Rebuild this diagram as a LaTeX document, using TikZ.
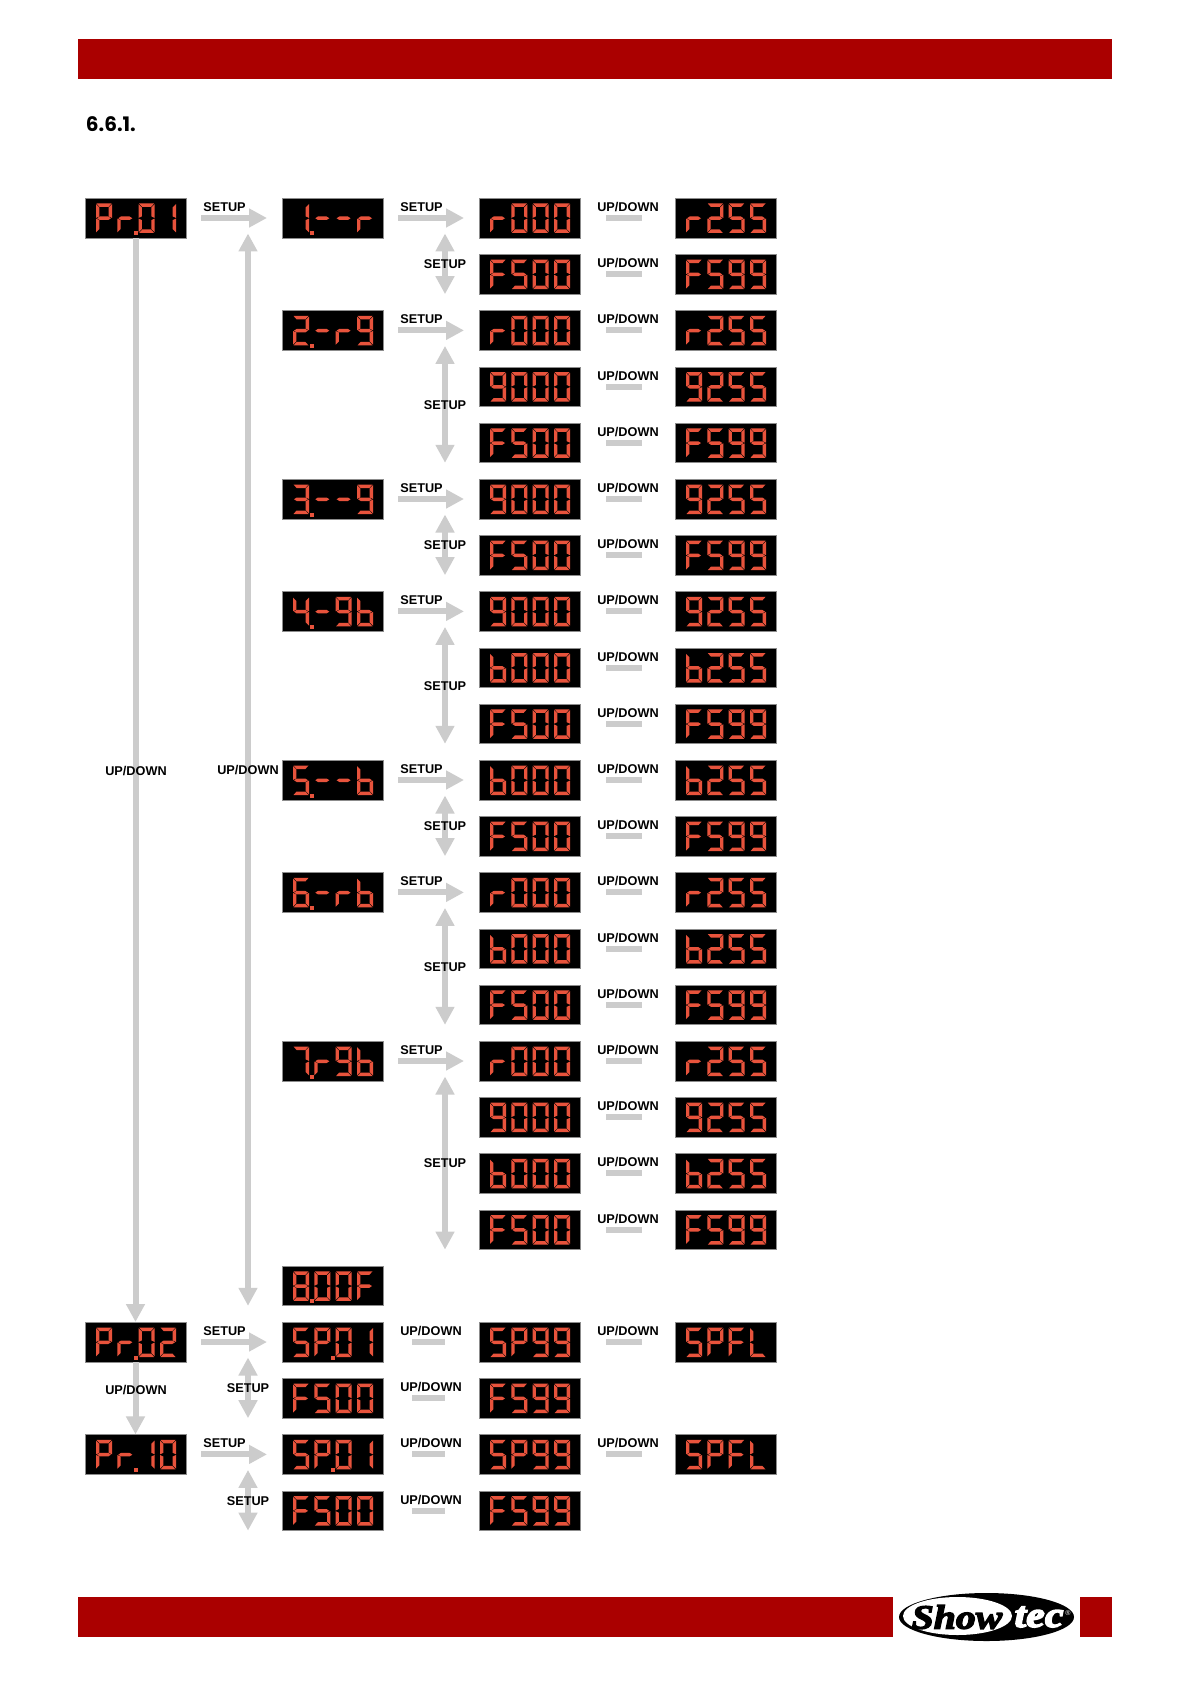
\documentclass[tikz,border=0pt]{standalone}
\usepackage{fontspec}
\setmainfont{Liberation Sans}
\newfontfamily\headfont{Poppins}
\newfontfamily\logofont[BoldItalicFeatures={FakeBold=4,FakeStretch=1.17}]{Liberation Serif}
\usetikzlibrary{arrows.meta,calc}
\definecolor{barred}{HTML}{AA0000}
\definecolor{segc}{HTML}{E8533C}
\definecolor{arrc}{HTML}{CCCCCC}
\tikzset{
  x=0.5pt,y=-0.5pt,
  lcdbox/.style={fill=black,draw=black!45,line width=.2pt,minimum width=50.3pt,minimum height=19.8pt,inner sep=0pt,text opacity=0,font=\fontsize{9}{9}\selectfont},
  lab/.style={font=\bfseries\fontsize{6.35}{7}\selectfont,inner sep=0pt,text=black},
  garrow/.style={draw=arrc,line width=3pt,-{Triangle[length=9pt,width=9pt,fill=arrc]}},
  gdouble/.style={draw=arrc,line width=3pt,{Triangle[length=9pt,width=9pt,fill=arrc]}-{Triangle[length=9pt,width=9pt,fill=arrc]}},
  gbar/.style={draw=arrc,line width=3pt},
  redbar/.style={fill=barred,draw=none},
}
\newcommand\segA{\fill[segc] (0.5,0)--(15.5,0)--(12.4,3.5)--(3.6,3.5)--cycle;}
\newcommand\segD{\fill[segc] (0.5,29.5)--(15.5,29.5)--(12.4,26)--(3.6,26)--cycle;}
\newcommand\segF{\fill[segc] (0,0.7)--(3.3,4)--(3.3,12.9)--(0,14.4)--cycle;}
\newcommand\segE{\fill[segc] (0,15.1)--(3.3,16.6)--(3.3,25.5)--(0,28.8)--cycle;}
\newcommand\segB{\fill[segc] (16,0.7)--(12.7,4)--(12.7,12.9)--(16,14.4)--cycle;}
\newcommand\segC{\fill[segc] (16,15.1)--(12.7,16.6)--(12.7,25.5)--(16,28.8)--cycle;}
\newcommand\segG{\fill[segc] (1,14.75)--(3.7,13)--(12.3,13)--(15,14.75)--(12.3,16.5)--(3.7,16.5)--cycle;}
\newcommand\defglyph[2]{\expandafter\def\csname lcdg#1\endcsname{#2}}
\defglyph{0}{\segA\segB\segC\segD\segE\segF}
\defglyph{1}{\segB\segC}
\defglyph{2}{\segA\segB\segG\segE\segD}
\defglyph{3}{\segA\segB\segG\segC\segD}
\defglyph{4}{\segF\segG\segB\segC}
\defglyph{5}{\segA\segF\segG\segC\segD}
\defglyph{6}{\segA\segF\segG\segC\segD\segE}
\defglyph{7}{\segA\segB\segC}
\defglyph{8}{\segA\segB\segC\segD\segE\segF\segG}
\defglyph{9}{\segA\segB\segC\segD\segF\segG}
\defglyph{r}{\segE\segG}
\defglyph{b}{\segC\segD\segE\segF\segG}
\defglyph{F}{\segA\segE\segF\segG}
\defglyph{P}{\segA\segB\segE\segF\segG}
\defglyph{S}{\segA\segF\segG\segC\segD}
\defglyph{L}{\segD\segE\segF}
\defglyph{-}{\segG}
\newcommand\lcdd[2]{\begin{scope}[shift={(\xl+#2,\yt+5.5)}]\csname lcdg#1\endcsname\end{scope}}
% name, centre x, row, text, four glyphs, decimal-point position
\newcommand\lcd[9]{%
  \pgfmathsetmacro\yc{218+56.2*#3}%
  \pgfmathsetmacro\xl{#2-50.5}%
  \pgfmathsetmacro\yt{\yc-20}%
  \node[lcdbox] (#1) at (#2,\yc) {#4};
  \lcdd{#5}{11}\lcdd{#6}{32.3}\lcdd{#7}{53.6}\lcdd{#8}{75}%
  \ifnum#9=0\else
    \pgfmathsetmacro\dotx{\xl+11+21.33*(#9-1)+16.5}%
    \fill[segc] (\dotx,\yt+33.5) rectangle ++(4,4);
  \fi
}
\def\lcdparse#1#2#3#4#5#6#7{\lcd{#1}{#2}{#3}{#4#5#6#7}{#4}{#5}{#6}{#7}{0}}
\newcommand\lcds[4]{\lcdparse{#1}{#2}{#3}#4}
\def\colA{135.5}\def\colB{332.5}\def\colC{529.5}\def\colD{725.5}
% stub with UP/DOWN label between two displays
\newcommand\stubCD[1]{%
  \draw[gbar,shorten <=13pt,shorten >=16.5pt] (c#1.east) -- (d#1.west);
  \node[lab] (ud#1) at ($(c#1.east)!.5!(d#1.west)+(.5,-11)$) {UP/DOWN};
}
\newcommand\stubBC[1]{%
  \draw[gbar,shorten <=14.5pt,shorten >=17pt] (b#1.east) -- (c#1.west);
  \node[lab] (ub#1) at ($(b#1.east)!.5!(c#1.west)+(0,-11)$) {UP/DOWN};
}
\newcommand\pair[3]{\lcds{c#1}{\colC}{#1}{#2}\lcds{d#1}{\colD}{#1}{#3}\stubCD{#1}}
% horizontal SETUP arrow
\newcommand\sarrow[3]{%
  \draw[garrow,shorten <=7.5pt] (#1.east) -- ($(#2.west)+(-15,0)$);
  \node[lab] (#3) at ($(#1.east)!.5!(#2.west)+(-9.5,-11)$) {SETUP};
}
% vertical double arrow: id, x, top row, bottom row, label
\newcommand\dbl[5]{%
  \pgfmathsetmacro\ya{218+56.2*#3+15.5}%
  \pgfmathsetmacro\yb{218+56.2*#4+20}%
  \coordinate (#1t) at (#2,\ya);
  \coordinate (#1b) at (#2,\yb);
  \draw[gdouble] (#1t) -- (#1b);
  \node[lab] (#1l) at ($(#1t)!.5!(#1b)+(0,.5)$) {#5};
}
\begin{document}
\begin{tikzpicture}
\useasboundingbox (0,0) rectangle (1191,1684);
\fill[white] (0,0) rectangle (1191,1684);
\fill[redbar] (78,39) rectangle (1112,79);
\fill[redbar] (78,1597) rectangle (893,1637);
\fill[redbar] (1080,1597) rectangle (1112,1637);
\node[anchor=west,inner sep=0pt,font=\headfont\bfseries\fontsize{10}{11}\selectfont] (head) at (85.5,124) {6.6.1.};
% displays, column B
\lcd{a0}{\colA}{0}{Pr.01}{P}{r}{0}{1}{2}
\lcd{a20}{\colA}{20}{Pr.02}{P}{r}{0}{2}{2}
\lcd{a22}{\colA}{22}{Pr.10}{P}{r}{1}{0}{2}
\lcd{b0}{\colB}{0}{1.--r}{1}{-}{-}{r}{1}
\lcd{b2}{\colB}{2}{2.-r9}{2}{-}{r}{9}{1}
\lcd{b5}{\colB}{5}{3.--9}{3}{-}{-}{9}{1}
\lcd{b7}{\colB}{7}{4.-9b}{4}{-}{9}{b}{1}
\lcd{b10}{\colB}{10}{5.--b}{5}{-}{-}{b}{1}
\lcd{b12}{\colB}{12}{6.-rb}{6}{-}{r}{b}{1}
\lcd{b15}{\colB}{15}{7.r9b}{7}{r}{9}{b}{1}
\lcd{b19}{\colB}{19}{8.00F}{8}{0}{0}{F}{1}
\lcd{b20}{\colB}{20}{SP.01}{S}{P}{0}{1}{2}
\lcds{b21}{\colB}{21}{F500}
\lcd{b22}{\colB}{22}{SP.01}{S}{P}{0}{1}{2}
\lcds{b23}{\colB}{23}{F500}
% columns C and D
\pair{0}{r000}{r255}
\pair{1}{F500}{F599}
\pair{2}{r000}{r255}
\pair{3}{9000}{9255}
\pair{4}{F500}{F599}
\pair{5}{9000}{9255}
\pair{6}{F500}{F599}
\pair{7}{9000}{9255}
\pair{8}{b000}{b255}
\pair{9}{F500}{F599}
\pair{10}{b000}{b255}
\pair{11}{F500}{F599}
\pair{12}{r000}{r255}
\pair{13}{b000}{b255}
\pair{14}{F500}{F599}
\pair{15}{r000}{r255}
\pair{16}{9000}{9255}
\pair{17}{b000}{b255}
\pair{18}{F500}{F599}
\pair{20}{SP99}{SPFL}
\lcds{c21}{\colC}{21}{F599}
\pair{22}{SP99}{SPFL}
\lcds{c23}{\colC}{23}{F599}
\stubBC{20}\stubBC{21}\stubBC{22}\stubBC{23}
% column A arrows
\draw[garrow] (a0.south) -- (a20.north);
\node[lab] (la) at (136,771.5) {UP/DOWN};
\draw[garrow] (a20.south) -- (a22.north);
\node[lab] (lb) at (136,1390) {UP/DOWN};
\dbl{lng}{248}{0}{19}{UP/DOWN}
% horizontal arrows
\sarrow{a0}{b0}{s0}
\sarrow{a20}{b20}{s20}
\sarrow{a22}{b22}{s22}
\sarrow{b0}{c0}{t0}
\sarrow{b2}{c2}{t2}
\sarrow{b5}{c5}{t5}
\sarrow{b7}{c7}{t7}
\sarrow{b10}{c10}{t10}
\sarrow{b12}{c12}{t12}
\sarrow{b15}{c15}{t15}
% vertical double arrows
\dbl{v0}{445}{0}{1}{SETUP}
\dbl{v2}{445}{2}{4}{SETUP}
\dbl{v5}{445}{5}{6}{SETUP}
\dbl{v7}{445}{7}{9}{SETUP}
\dbl{v10}{445}{10}{11}{SETUP}
\dbl{v12}{445}{12}{14}{SETUP}
\dbl{v15}{445}{15}{18}{SETUP}
\dbl{w20}{248}{20}{21}{SETUP}
\dbl{w22}{248}{22}{23}{SETUP}
% logo
\fill[black] (986.5,1617) ellipse [x radius=87.5,y radius=24];
\fill[white] (957.5,1616) ellipse [x radius=54.5,y radius=19];
\node[inner sep=0pt,font=\logofont\bfseries\itshape\fontsize{17}{17}\selectfont,text=black] (logos) at (957,1617) {Show};
\node[inner sep=0pt,font=\logofont\bfseries\itshape\fontsize{18}{18}\selectfont,text=white] (logot) at (1039,1617) {tec};
\node[inner sep=0pt,font=\fontsize{3.5}{4}\selectfont,text=white] (logor) at (1068,1613) {®};
\end{tikzpicture}
\end{document}
